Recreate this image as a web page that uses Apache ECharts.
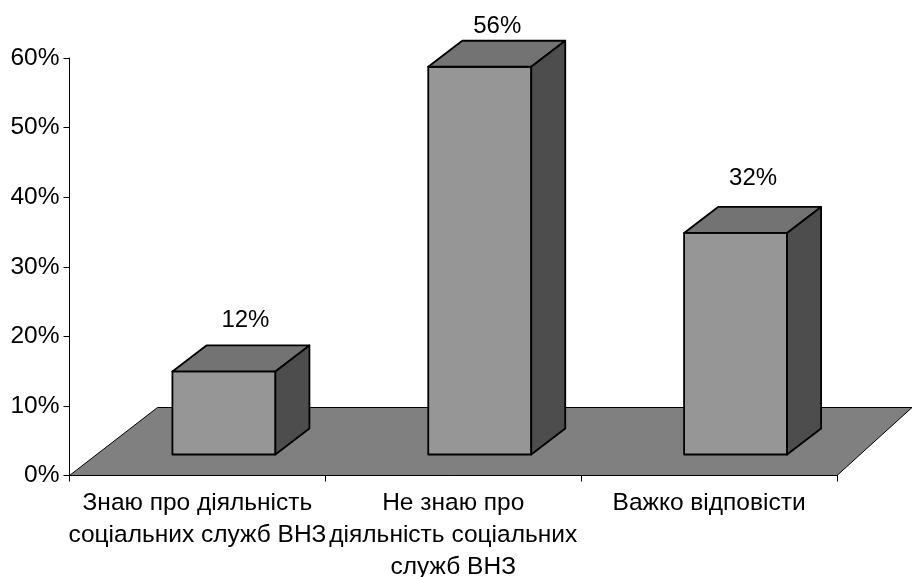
<!DOCTYPE html>
<html>
<head>
<meta charset="utf-8">
<style>html,body{margin:0;padding:0;background:#fff}#chart{width:912px;height:577px}</style>
<script src="https://cdn.jsdelivr.net/npm/echarts@6/dist/echarts.min.js"></script>
</head>
<body>
<div id="chart"></div>
<script>
var categories = ['Знаю про діяльність\nсоціальних служб ВНЗ', 'Не знаю про\nдіяльність соціальних\nслужб ВНЗ', 'Важко відповісти'];
var values = [12, 56, 32];
var labelLift = [51, 40, 55];
var labelShift = [73, 69, 69];
var FONT = '"Liberation Sans", Arial, sans-serif';

function renderFloor(params, api) {
    var o = api.coord([0, 0]);
    var band = api.size([1, 0], [0, 0])[0];
    var x0 = o[0] - band / 2, x1 = x0 + band * 3;
    var y0 = o[1];
    return {
        type: 'polygon',
        shape: {points: [[x0, y0], [x1, y0], [x1 + 75, y0 - 68], [x0 + 88, y0 - 68]]},
        style: {fill: '#808080', stroke: '#000', lineWidth: 1}
    };
}

function renderBar(params, api) {
    var i = params.dataIndex;
    var val = api.value(1);
    var c = api.coord([i, val]);
    var base = api.coord([i, 0])[1] - 21;
    var top = c[1] - 21;
    var l = c[0] - 25, r = l + 103;
    var dx = 34, dy = 26;
    var line = {stroke: '#000', lineWidth: 1.8, lineJoin: 'round'};
    return {
        type: 'group',
        children: [
            {type: 'polygon', shape: {points: [[l, base], [r, base], [r, top], [l, top]]},
                style: Object.assign({fill: '#969696'}, line)},
            {type: 'polygon', shape: {points: [[l, top], [r, top], [r + dx, top - dy], [l + dx, top - dy]]},
                style: Object.assign({fill: '#737373'}, line)},
            {type: 'polygon', shape: {points: [[r, base], [r + dx, base - dy], [r + dx, top - dy], [r, top]]},
                style: Object.assign({fill: '#4d4d4d'}, line)},
            {type: 'text', style: {
                x: l + labelShift[i], y: top - labelLift[i],
                text: val + '%', fill: '#000', font: '24px ' + FONT,
                align: 'center', verticalAlign: 'middle'
            }}
        ]
    };
}

var chart = echarts.init(document.getElementById('chart'), null, {renderer: 'canvas'});
chart.setOption({
    animation: false,
    backgroundColor: '#fff',
    grid: {left: 69.5, right: 75, top: 58, bottom: 101.5, outerBoundsMode: 'none'},
    xAxis: {
        type: 'category',
        data: categories,
        axisLine: {show: true, lineStyle: {color: '#000', width: 1}},
        axisTick: {show: true, alignWithLabel: false, length: 6, lineStyle: {color: '#000'}},
        axisLabel: {color: '#000', fontFamily: FONT, fontSize: 24.5, lineHeight: 32, margin: 12, interval: 0, hideOverlap: false}
    },
    yAxis: [{
        type: 'value', min: 0, max: 60, interval: 10,
        splitLine: {show: false},
        axisLine: {show: true, lineStyle: {color: '#000', width: 1}},
        axisTick: {show: true, length: 6, lineStyle: {color: '#000'}},
        axisLabel: {color: '#000', fontFamily: FONT, fontSize: 24.5, margin: 10, padding: [3, 0, 0, 0], formatter: '{value}%'}
    }, {
        // bars sit on a slightly shorter scale than the wall axis, as in the 3D original
        type: 'value', min: 0, max: 60.3, show: false, splitLine: {show: false}
    }],
    series: [{
        type: 'custom', renderItem: renderFloor, data: [[0, 0]], clip: false, z: 1, silent: true,
        encode: {x: 0, y: 1}
    }, {
        type: 'custom', renderItem: renderBar, yAxisIndex: 1, clip: false, z: 3, silent: true,
        data: values.map(function(v, i) { return [i, v]; }),
        encode: {x: 0, y: 1}
    }]
});
</script>
</body>
</html>
